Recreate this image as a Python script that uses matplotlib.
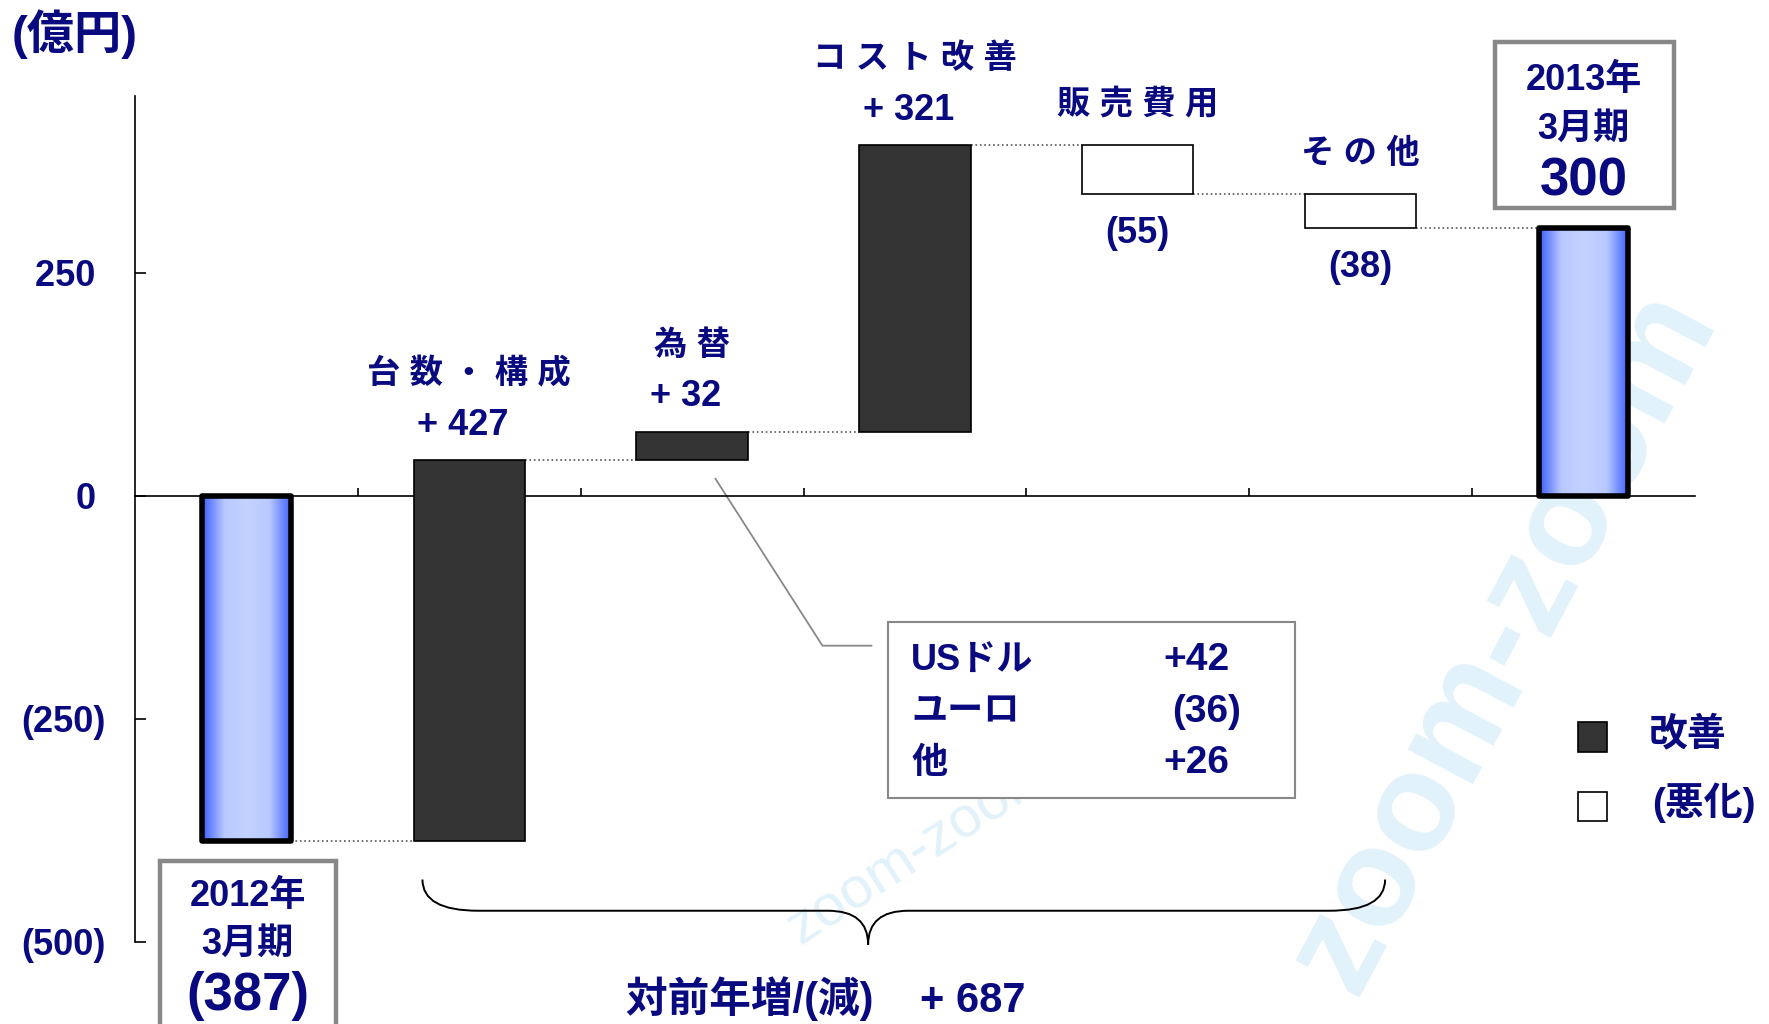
import numpy as np
import matplotlib
matplotlib.use("Agg")
import matplotlib.pyplot as plt
from matplotlib.patches import Rectangle, PathPatch
from matplotlib.path import Path
from matplotlib.colors import LinearSegmentedColormap

plt.rcParams['font.family'] = ['Liberation Sans', 'Noto Sans CJK JP']
plt.rcParams['font.weight'] = 'bold'

NAVY = '#0a0a80'

# data (億円)
change_names = ['台 数 ・ 構 成', '為 替', 'コ ス ト 改 善', '販 売 費 用', 'そ の 他']
start_value = -387
changes = [427, 32, 321, -55, -38]
end_value = 300
change_labels = ['+ 427', '+ 32', '+ 321', '(55)', '(38)']
start_label = ['2012年', '3月期', '(387)']
end_label = ['2013年', '3月期', '300']
ytick_values = [-500, -250, 0, 250]
ytick_labels = ['(500)', '(250)', '0 ', '250 ']
fx_names = ['USドル', 'ユーロ', '他']
fx_labels = ['+42', '(36)', '+26']
total_change_label = '対前年増/(減)    + 687'
legend_labels = ['改善', '(悪化)']

fig = plt.figure(figsize=(17.69, 10.24), dpi=100)
fig.patch.set_facecolor('white')
ax = fig.add_axes([0.0763, 0.0801, 0.8818, 0.8262])
ax.set_facecolor('none')

# faint watermark behind everything
fig.text(0.85, 0.375, 'zoom-zoom', fontsize=100, color='#e2f2fa', rotation=62,
         ha='center', va='center', zorder=-5, fontweight='bold')
fig.text(0.52, 0.17, 'zoom-zoom', fontsize=42, color='#e2f2fa', rotation=33,
         ha='center', va='center', zorder=-5, fontweight='normal')

levels = np.cumsum([start_value] + changes)
x_mid = np.arange(1, len(changes) + 1)
bottoms = np.minimum(levels[:-1], levels[1:])
tops = np.maximum(levels[:-1], levels[1:])
heights = np.abs(changes)
colors = ['#333333' if c > 0 else 'white' for c in changes]
ax.bar(x_mid, heights, bottom=bottoms, width=0.5, color=colors,
       edgecolor='black', linewidth=1.2, zorder=3)

grad = LinearSegmentedColormap.from_list(
    'bluebar', ['#3c5eff', '#b9c9ff', '#c4d2ff', '#b9c9ff', '#3c5eff'])


def gradient_bar(x, value, w=0.40):
    y0, y1 = min(0, value), max(0, value)
    img = np.linspace(0, 1, 256).reshape(1, -1)
    ax.imshow(img, cmap=grad, extent=[x - w / 2, x + w / 2, y0, y1],
              aspect='auto', zorder=3, interpolation='bilinear')
    ax.add_patch(Rectangle((x - w / 2, y0), w, y1 - y0, fill=False,
                           edgecolor='black', linewidth=4, zorder=4,
                           joinstyle='round'))


gradient_bar(0, start_value)
gradient_bar(len(changes) + 1, end_value)

# dotted connectors
ax.plot([0.2, 0.75], [levels[0]] * 2, ls=':', color='#555555', lw=1.2, zorder=2)
for i in range(1, len(levels)):
    right = i + 1 - (0.2 if i == len(levels) - 1 else 0.25)
    ax.plot([i + 0.25, right], [levels[i]] * 2, ls=':', color='#555555', lw=1.2, zorder=2)

# labels of the changes
for i, (name, lab, c) in enumerate(zip(change_names, change_labels, changes)):
    x = x_mid[i]
    if c > 0:
        ax.text(x - 0.03, tops[i] + 39, lab, ha='center', va='center', fontsize=26, color=NAVY)
        ax.text(x, tops[i] + 96, name, ha='center', va='center', fontsize=24, color=NAVY,
                clip_on=False)
    else:
        ax.text(x, tops[i] + 45, name, ha='center', va='center', fontsize=24, color=NAVY,
                clip_on=False)
        ax.text(x, bottoms[i] - 44, lab, ha='center', va='center', fontsize=26, color=NAVY)

# start / end boxes
ax.add_patch(Rectangle((-0.388, -700), 0.789, -409 + 700, fill=True, facecolor='white',
                       edgecolor='#888888', linewidth=3.2, zorder=4, clip_on=False))
ax.add_patch(Rectangle((5.603, 322), 0.803, 187, fill=True, facecolor='white',
                       edgecolor='#888888', linewidth=3.2, zorder=4, clip_on=False))
for lab, y, fs in zip(start_label, [-449, -503, -561], [26, 26, 38]):
    ax.text(0.006, y, lab, ha='center', va='center', fontsize=fs, color=NAVY,
            zorder=5, clip_on=False)
for lab, y, fs in zip(end_label, [465, 411, 352], [26, 26, 38]):
    ax.text(6.0, y, lab, ha='center', va='center', fontsize=fs, color=NAVY,
            zorder=5, clip_on=False)

# fx breakdown callout
ax.plot([2.105, 2.585, 2.805], [19, -168, -168], color='#888888', lw=1.3, zorder=2)
ax.add_patch(Rectangle((2.881, -339), 1.825, 197, facecolor='white',
                       edgecolor='#888888', linewidth=1.5, zorder=4))
for name, lab, y in zip(fx_names, fx_labels, [-184, -242, -300]):
    ax.text(2.984, y, name, ha='left', va='center', fontsize=26, color=NAVY, zorder=5)
    ax.text(4.114 if lab.startswith('+') else 4.155, y, lab, ha='left', va='center',
            fontsize=28, color=NAVY, zorder=5)

# brace under the changes
x0, x1, xt = 0.79, 5.11, 2.79
yt, yl, yp = -430, -465, -503
r1, r2 = 0.25, 0.18
verts = [(x0, yt), (x0, yl), (x0 + r1, yl),
         (xt - r2, yl), (xt, yl), (xt, yp),
         (xt, yl), (xt + r2, yl),
         (x1 - r1, yl), (x1, yl), (x1, yt)]
codes = [Path.MOVETO, Path.CURVE3, Path.CURVE3,
         Path.LINETO, Path.CURVE3, Path.CURVE3,
         Path.CURVE3, Path.CURVE3,
         Path.LINETO, Path.CURVE3, Path.CURVE3]
ax.add_patch(PathPatch(Path(verts, codes), fill=False, edgecolor='black', lw=1.4,
                       clip_on=False, zorder=3))
ax.text(2.6, -563, total_change_label, ha='center', va='center', fontsize=30,
        color=NAVY, clip_on=False)

# axes styling
ax.set_xlim(-0.5, 6.5)
ax.set_ylim(-500, 448)
ax.spines['top'].set_visible(False)
ax.spines['right'].set_visible(False)
ax.spines['bottom'].set_position(('data', 0))
ax.spines['left'].set_linewidth(1.2)
ax.spines['bottom'].set_linewidth(1.2)
ax.set_xticks(np.arange(0.5, 6, 1))
ax.set_xticklabels([])
ax.tick_params(axis='x', direction='in', length=6, width=1.2)
ax.set_yticks(ytick_values)
ax.set_yticklabels(ytick_labels)
ax.tick_params(axis='y', direction='in', length=8, width=1.2, pad=21,
               labelsize=26, labelcolor=NAVY)

fig.text(0.0068, 0.9668, '(億円)', ha='left', va='center', fontsize=34, color=NAVY)

# legend
fig.patches.append(Rectangle((0.892, 0.2656), 0.0165, 0.0293, transform=fig.transFigure,
                             facecolor='#333333', edgecolor='black', lw=1.2))
fig.patches.append(Rectangle((0.892, 0.1982), 0.0165, 0.0284, transform=fig.transFigure,
                             facecolor='white', edgecolor='black', lw=1.2))
fig.text(0.932, 0.2822, legend_labels[0], ha='left', va='center', fontsize=28, color=NAVY)
fig.text(0.934, 0.2158, legend_labels[1], ha='left', va='center', fontsize=28, color=NAVY)

fig.savefig('out.png', dpi=100)
